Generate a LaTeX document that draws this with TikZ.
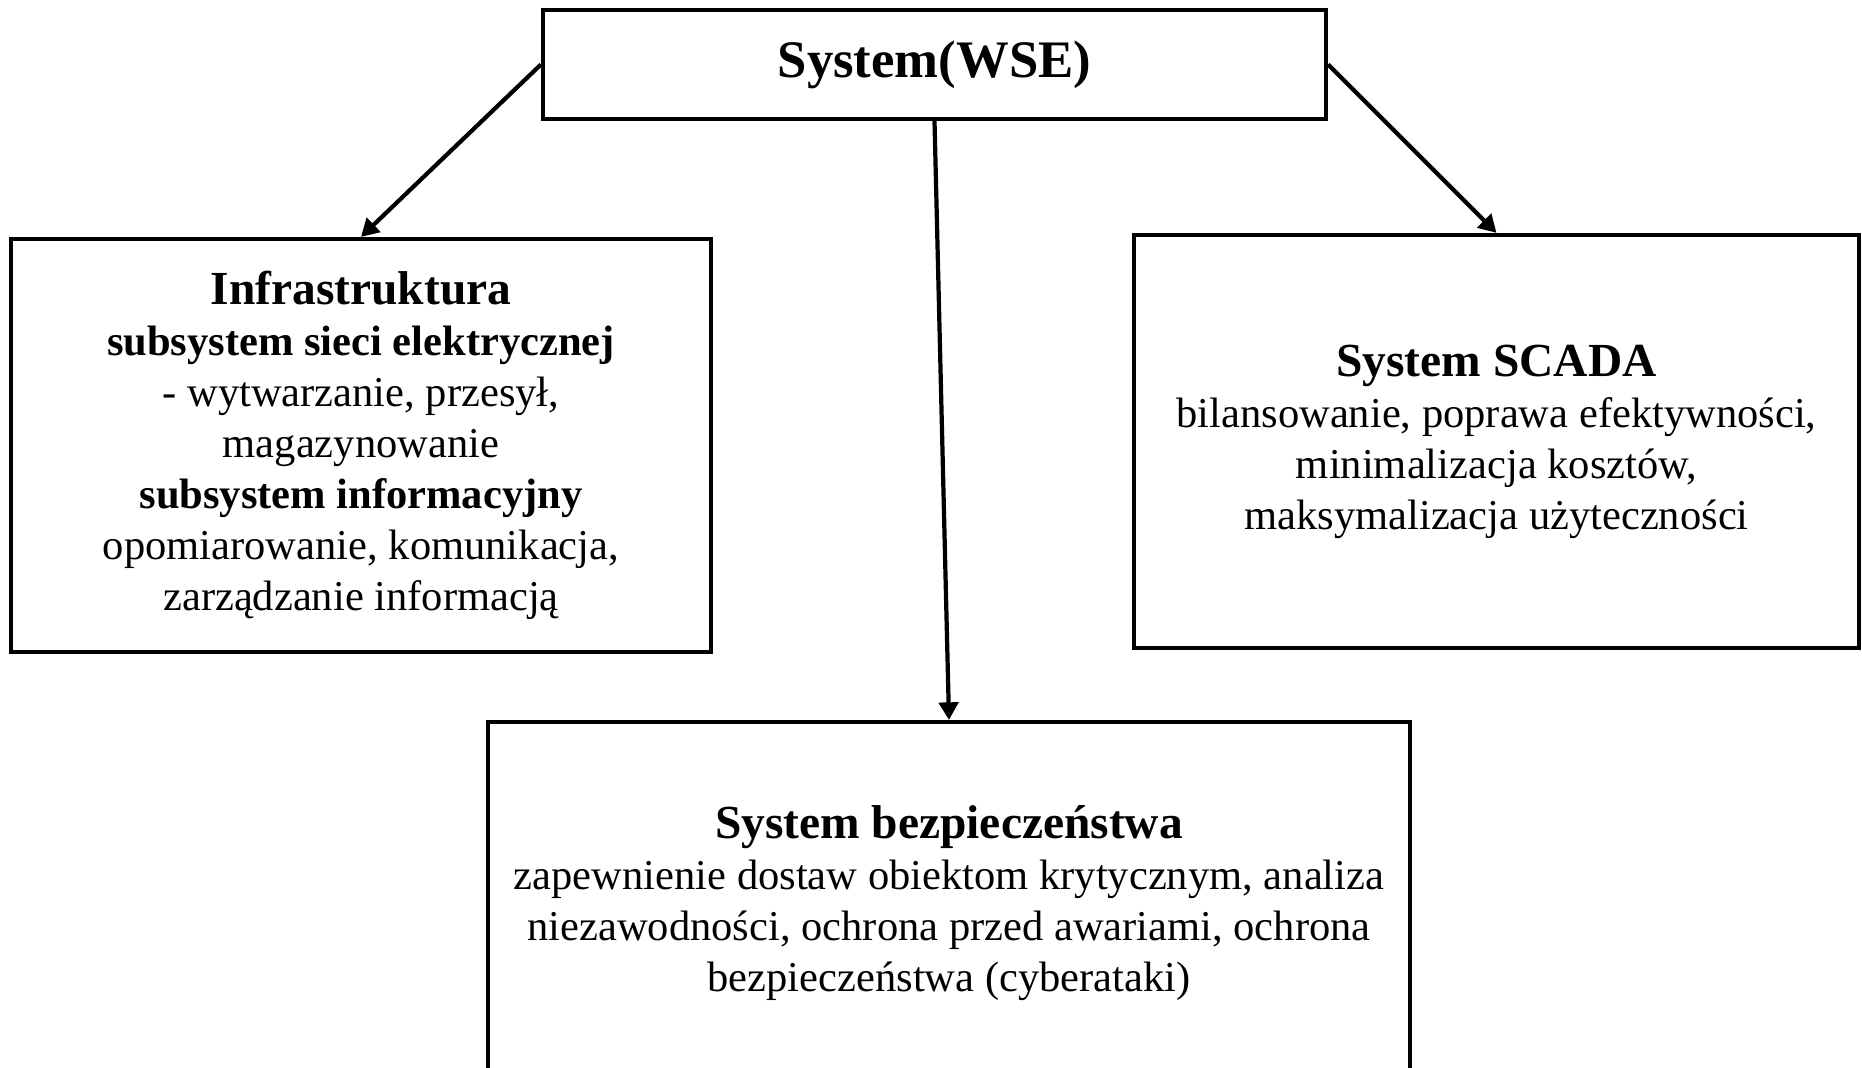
\documentclass[tikz,border=0pt]{standalone}
\usepackage{fontspec}
\setmainfont{Liberation Serif}
\usetikzlibrary{arrows.meta}

\begin{document}
\begin{tikzpicture}[box/.style={draw, line width=1.2pt, align=center, inner sep=0pt, font=\fontsize{12.1}{14.5}\selectfont},
    link/.style={line width=1.2pt, -{Triangle[length=5pt,width=5.5pt]}}]
        \useasboundingbox (0,0) rectangle (18.62,-10.67);

        \node[box, minimum width=7.83cm, minimum height=1.09cm, font=\fontsize{15}{18}\selectfont\bfseries] (wse) at (9.345,-0.645) {System(WSE)};

        \node[box, minimum width=7.0cm, minimum height=4.13cm] (infra) at (3.61,-4.455) {\textbf{\fontsize{13.5}{14.5}\selectfont Infrastruktura}\\
            \textbf{subsystem sieci elektrycznej}\\
            - wytwarzanie, przesył,\\
            magazynowanie\\
            \textbf{subsystem informacyjny}\\
            opomiarowanie, komunikacja,\\
            zarządzanie informacją};

        \node[box, minimum width=7.25cm, minimum height=4.13cm] (scada) at (14.965,-4.415) {\textbf{\fontsize{13.5}{14.5}\selectfont System SCADA}\\
            bilansowanie, poprawa efektywności,\\
            minimalizacja kosztów,\\
            maksymalizacja użyteczności};

        \node[box, minimum width=9.22cm, minimum height=3.63cm] (secur) at (9.49,-9.035) {\textbf{\fontsize{13.5}{14.5}\selectfont System bezpieczeństwa}\\
            zapewnienie dostaw obiektom krytycznym, analiza\\
            niezawodności, ochrona przed awariami, ochrona\\
            bezpieczeństwa (cyberataki)};

        \draw[link] (wse.west) -- (infra.north);
        \draw[link] (wse.east) -- (scada.north);
        \draw[link] (wse.south) -- (secur.north);
    \end{tikzpicture}
\end{document}
